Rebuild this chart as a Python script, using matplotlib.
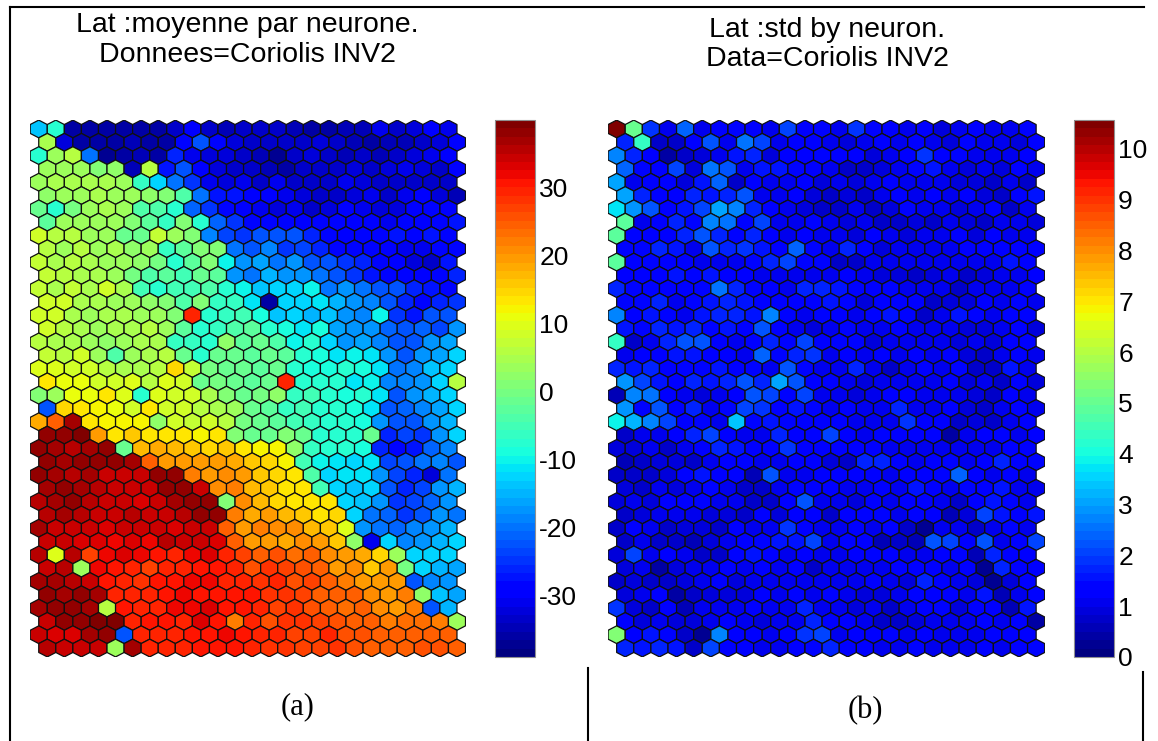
import numpy as np
import matplotlib
matplotlib.use('Agg')
import matplotlib.pyplot as plt
from matplotlib.collections import PolyCollection
from matplotlib.lines import Line2D

plt.rcParams['axes.unicode_minus'] = False
plt.rcParams['font.family'] = ['Liberation Sans', 'DejaVu Sans']

W, H = 1158, 741

mean_rows = [
[-14,-8,-36,-36,-36,-36,-36,-36,-33,-30,-33,-35,-33,-34,-33,-35,-36,-36,-35,-35,-31,-33,-32,-30,-31],
[5,-32,-36,-36,-36,-35,-36,-36,-28,-23,-29,-32,-34,-34,-33,-33,-32,-34,-35,-36,-35,-35,-33,-32,-30],
[-7,3,6,-20,-37,-36,-35,-36,-26,-31,-32,-32,-33,-35,-37,-34,-32,-33,-35,-34,-35,-33,-32,-31,-30],
[4,4,4,1,2,-35,6,-27,-23,-30,-32,-34,-34,-35,-36,-34,-33,-33,-32,-33,-32,-31,-32,-33,-30],
[3,5,5,5,5,4,-6,-13,-20,-25,-31,-32,-31,-33,-31,-34,-34,-33,-31,-32,-33,-33,-34,-34,-33],
[2,4,4,5,4,3,2,1,-4,-20,-27,-27,-30,-30,-31,-32,-33,-33,-32,-31,-33,-31,-30,-32,-35],
[-1,-7,0,4,5,3,-4,-4,-7,-21,-25,-29,-30,-31,-32,-31,-34,-32,-30,-31,-32,-32,-30,-28,-30],
[-3,4,4,3,3,1,-3,-6,1,-8,-21,-25,-28,-29,-28,-30,-29,-28,-30,-30,-31,-29,-30,-29,-27],
[8,6,6,4,3,-2,-1,7,4,1,-19,-24,-25,-23,-22,-23,-26,-29,-30,-29,-28,-27,-28,-27,-29],
[6,4,6,3,5,2,3,-6,-3,1,1,-20,-23,-19,-25,-24,-26,-28,-28,-29,-30,-31,-31,-29,-28],
[7,5,6,5,4,4,2,0,-8,-3,1,-10,-18,-16,-20,-18,-22,-23,-25,-26,-28,-30,-32,-33,-27],
[7,6,5,5,3,0,-4,-3,-5,-2,-3,-18,-20,-15,-18,-18,-20,-23,-25,-27,-28,-29,-30,-28,-26],
[7,5,7,5,8,5,-5,-7,-5,-5,-4,-8,-10,-14,-13,-12,-10,-20,-18,-20,-22,-22,-26,-27,-29],
[8,8,5,5,4,4,2,1,-4,1,-6,-6,-11,-36,-13,-12,-11,-15,-17,-19,-23,-26,-29,-26,-25],
[8,9,5,4,5,5,4,3,1,30,-7,-6,-5,-9,-14,-13,-15,-14,-17,-19,-10,-25,-27,-22,-23],
[8,6,5,4,5,5,6,3,-3,-8,-6,-4,-3,-7,-9,-11,-9,-16,-17,-17,-21,-23,-21,-24,-18],
[6,5,5,4,2,4,5,5,-6,-6,-7,2,-3,-2,-4,-10,-8,-12,-17,-16,-19,-22,-23,-18,-16],
[7,6,8,4,-4,4,5,6,-2,-7,-2,-1,-3,-1,-3,-8,-9,-11,-10,-11,-17,-22,-18,-16,-13],
[10,10,8,9,6,5,5,6,15,7,0,-1,-2,-3,-1,-8,-9,-9,-8,-9,-11,-20,-19,-14,-13],
[13,11,11,8,9,10,6,10,8,-2,0,-1,-3,-2,30,-7,-7,-8,-11,-10,-19,-19,-17,-13,6],
[1,3,11,11,13,10,-8,10,9,8,5,1,-2,0,2,-6,-5,-7,-9,-8,-11,-22,-18,-15,-12],
[-23,15,14,12,11,9,13,8,9,6,5,4,-2,-3,-6,-5,-7,-8,-9,-11,-22,-21,-19,-16,-12],
[18,24,37,14,12,12,12,2,9,7,8,6,0,-1,-3,-5,-6,-7,-8,-9,-18,-23,-22,-18,-15],
[38,38,39,19,14,16,13,13,13,12,13,1,-1,-2,1,-2,-7,-8,-7,-1,-26,-24,-25,-17,-12],
[38,37,36,37,38,-1,17,18,17,16,15,16,13,12,12,2,-6,-7,-8,-9,-26,-28,-27,-21,-19],
[38,37,38,38,38,37,25,19,20,19,19,18,16,15,12,-5,-10,-11,-12,-11,-24,-23,-20,-19,-23],
[38,37,36,37,35,35,34,38,38,22,20,21,20,16,15,14,-4,-12,-11,-11,-18,-24,-26,-32,-20],
[37,38,37,36,35,34,35,38,38,35,21,22,17,16,14,13,-5,-12,-14,-12,-23,-26,-24,-18,-15],
[36,37,38,36,35,35,33,35,37,38,38,1,21,17,15,14,13,14,-13,-14,-18,-25,-24,-21,-18],
[36,37,36,35,35,36,34,35,36,38,38,22,18,19,17,16,14,15,-12,-20,-21,-25,-22,-18,-20],
[37,34,34,34,33,34,35,34,33,34,35,24,20,22,21,21,17,16,10,-17,-20,-21,-19,-17,-15],
[35,34,33,33,32,33,32,36,35,34,33,24,20,19,18,21,19,16,2,-31,-12,-19,-18,-15,-12],
[36,10,36,27,32,33,32,31,30,32,33,29,27,24,26,23,24,21,20,18,15,3,-13,-13,-12],
[35,36,3,32,31,30,27,30,29,31,31,30,26,28,27,26,24,20,21,16,19,0,-13,-15,-16],
[37,37,36,34,31,30,28,31,31,32,32,30,30,28,29,26,27,25,22,20,19,20,-23,-19,-18],
[38,37,38,37,30,29,29,31,32,31,31,31,31,28,28,27,25,24,25,21,20,22,2,-14,-16],
[37,38,38,37,6,31,30,30,32,32,33,31,31,29,27,28,26,24,23,24,21,20,22,-23,-15],
[34,38,38,39,39,30,31,31,30,33,31,22,29,26,28,28,27,26,24,24,22,23,23,22,4],
[34,33,33,37,38,-22,30,29,30,31,31,32,31,29,30,27,27,29,26,26,24,24,25,24,24],
[36,35,34,34,3,37,30,29,30,31,31,31,30,28,28,27,27,28,26,25,25,25,26,26,25],
]

std_rows = [
[10.5,5.0,1.9,1.1,2.4,1.1,1.2,1.4,1.3,1.1,2.1,1.3,1.4,1.1,1.9,1.4,1.2,1.0,1.3,0.9,1.0,1.3,1.0,1.1,1.4],
[1.8,4.3,0.8,0.7,1.3,2.3,1.1,2.6,2.0,1.1,1.3,1.2,1.0,0.9,1.1,1.3,1.1,1.2,1.1,0.9,1.4,1.1,1.0,0.9,1.2],
[2.8,1.7,1.3,0.4,0.7,0.9,1.1,1.5,1.8,0.9,1.2,1.3,1.4,1.2,1.3,0.9,1.0,1.2,1.9,1.2,1.4,1.0,1.1,1.0,1.2],
[2.4,1.4,1.2,2.0,0.9,2.6,2.2,1.1,1.5,1.5,1.4,1.2,1.0,0.8,0.7,0.9,1.0,1.4,1.5,1.1,0.9,1.0,0.9,1.2,1.0],
[3.0,1.0,1.3,1.2,0.9,1.6,2.4,0.8,1.2,1.1,1.1,1.3,0.9,1.1,0.9,1.1,1.2,1.0,1.0,1.1,0.9,0.9,0.8,1.0,0.8],
[3.0,1.8,1.2,1.3,1.7,1.6,1.8,2.2,1.1,1.0,1.2,0.9,0.7,0.9,0.8,1.0,1.3,1.0,1.2,1.0,1.3,0.9,0.7,1.3,1.5],
[3.7,2.9,2.3,1.3,1.5,2.0,3.0,2.8,1.8,1.3,1.1,0.9,0.8,0.7,1.0,0.8,0.9,1.4,1.0,1.0,0.9,1.1,1.2,0.8,1.0],
[4.8,1.0,1.3,1.8,1.4,2.8,2.5,1.4,2.0,1.1,1.0,1.4,1.0,0.9,1.1,0.8,0.8,0.9,0.8,1.0,0.9,0.8,1.1,1.1,0.9],
[4.8,1.4,1.3,1.2,1.8,2.3,1.7,1.4,1.8,1.3,1.1,1.2,1.1,1.0,0.9,1.2,1.0,0.9,1.0,1.1,1.3,0.9,1.2,1.1,1.1],
[1.4,1.4,1.8,1.5,1.1,2.2,1.7,1.9,1.5,1.2,2.4,1.4,1.1,1.7,1.2,0.9,1.1,1.1,1.0,1.0,1.2,1.3,1.3,1.2,1.3],
[4.8,1.3,1.4,1.3,1.2,1.0,1.0,1.1,1.4,1.8,2.0,1.4,1.4,0.8,0.7,1.1,1.0,1.1,1.0,1.1,1.0,1.1,1.0,1.6,1.2],
[1.2,1.3,1.2,1.6,1.4,1.6,1.2,1.3,1.0,1.1,1.1,1.1,1.0,1.3,1.0,0.9,0.9,0.8,0.9,1.1,0.7,0.9,1.1,1.0,1.2],
[1.8,1.4,1.4,1.3,1.2,1.4,2.5,1.8,1.4,1.3,1.0,1.8,1.7,1.5,1.4,1.3,1.4,1.0,1.1,1.0,0.8,1.0,1.0,1.1,1.2],
[1.4,1.4,1.7,1.1,1.4,1.5,1.8,1.5,1.3,1.3,1.2,1.3,1.5,1.4,0.9,1.3,1.3,1.2,0.8,0.9,0.9,1.3,1.1,1.4,1.1],
[2.7,1.3,1.5,1.4,1.1,1.5,1.8,1.7,1.5,2.7,1.4,1.1,1.4,1.2,1.0,1.4,1.5,1.4,0.7,1.1,1.5,1.4,1.1,1.4,1.4],
[1.5,1.4,1.7,1.5,1.7,1.4,1.5,1.2,2.2,1.3,1.0,0.9,1.1,1.4,1.0,1.1,1.3,1.1,1.0,1.1,0.9,0.9,1.1,1.2,0.9],
[4.3,0.7,1.1,1.7,2.2,2.3,1.2,1.1,1.3,1.7,1.4,2.0,1.2,1.4,1.4,0.9,1.0,1.0,1.0,1.1,0.9,1.0,0.9,1.2,1.3],
[1.1,1.2,1.2,1.5,1.5,1.3,1.2,1.0,2.4,1.4,1.8,1.9,1.1,1.2,1.0,1.2,1.0,1.2,1.1,1.3,0.9,0.8,1.1,1.3,1.1],
[1.8,1.6,1.7,1.3,1.4,1.4,1.5,1.3,1.4,1.1,2.3,1.4,1.1,1.0,1.8,1.1,0.8,1.0,1.3,1.1,1.4,0.8,0.7,1.6,1.1],
[2.9,2.0,1.6,1.3,1.8,1.6,1.8,2.3,1.7,3.1,2.2,1.2,1.3,1.1,0.9,1.1,1.0,1.1,1.0,1.3,0.9,1.0,0.8,1.2,0.9],
[0.5,2.7,2.5,1.3,1.1,0.9,1.0,1.3,2.2,2.1,1.4,2.1,1.0,1.1,0.9,1.0,1.3,1.3,1.1,1.1,1.0,0.9,0.8,1.3,1.1],
[2.9,1.4,2.2,1.3,1.8,1.1,1.4,2.0,1.9,1.3,1.5,1.4,1.0,1.3,1.1,1.0,1.8,1.0,1.1,1.2,0.9,0.8,1.0,1.3,1.1],
[3.8,3.3,2.8,2.1,1.3,1.4,1.1,3.4,1.4,1.6,1.4,1.3,1.2,1.3,1.0,1.1,1.1,1.9,1.3,1.3,0.8,0.9,0.8,1.1,1.2],
[0.8,1.0,1.1,1.2,1.8,2.1,1.2,1.0,1.0,1.7,1.3,1.4,2.0,1.3,1.1,1.4,1.2,1.3,1.4,0.4,1.1,1.2,1.4,1.1,1.2],
[0.9,0.9,1.0,0.8,1.0,1.2,1.7,1.6,1.2,1.2,1.9,1.2,1.3,1.2,1.3,1.2,1.0,1.0,1.1,1.1,1.0,1.1,1.1,1.3,1.3],
[0.6,0.8,0.9,0.9,0.8,1.1,1.3,1.4,1.0,1.1,1.2,1.2,0.9,0.8,1.7,1.8,1.3,1.1,1.2,1.4,1.1,1.2,1.8,1.3,1.4],
[0.8,0.7,0.7,0.9,1.4,1.5,1.3,1.4,0.5,2.3,1.1,1.1,1.3,1.2,1.3,1.2,1.1,1.2,1.2,1.4,2.4,1.3,1.0,1.3,1.0],
[0.9,0.7,1.0,0.9,1.1,1.4,1.1,0.8,0.8,1.0,1.4,1.2,1.3,1.0,1.1,1.2,1.1,1.6,1.2,1.1,1.4,1.2,1.6,1.1,1.0],
[0.9,1.0,0.9,1.2,1.2,1.4,1.0,1.0,0.8,0.8,1.2,2.3,1.1,1.0,0.9,1.2,1.0,1.2,1.2,1.0,0.7,1.3,1.6,1.4,1.1],
[0.8,0.9,1.1,1.0,1.1,0.9,0.9,0.7,1.2,0.9,1.3,1.2,0.8,1.2,1.4,1.4,1.1,1.4,1.3,0.5,0.9,2.0,1.5,1.2,1.6],
[0.8,1.2,1.0,0.8,0.9,0.9,0.8,1.2,1.0,1.1,1.9,1.2,1.1,1.0,1.3,1.1,1.2,0.7,0.3,1.0,1.0,0.8,1.0,1.4,1.1],
[0.8,1.0,0.7,0.8,0.6,0.9,1.0,1.2,1.4,1.5,1.6,2.0,1.1,1.4,1.3,0.6,0.7,0.6,2.2,2.0,1.3,2.3,1.1,1.3,2.1],
[0.9,2.1,1.1,1.3,1.0,0.8,0.8,1.4,1.5,1.2,1.0,1.3,1.0,1.0,1.2,1.4,1.2,1.0,1.1,1.3,1.4,0.5,1.8,1.3,1.3],
[0.9,1.0,0.4,0.9,1.0,1.1,1.3,1.0,1.2,1.1,1.3,0.8,1.0,1.1,1.0,1.0,1.3,1.3,1.2,1.0,1.3,0.3,1.7,1.3,1.2],
[0.8,0.9,0.8,0.7,0.9,1.0,1.3,0.9,1.0,1.0,1.1,1.0,1.0,1.1,1.0,1.2,1.0,0.9,1.8,1.3,1.0,0.9,0.3,0.9,1.2],
[0.9,1.0,1.3,0.4,0.8,0.9,0.9,0.9,1.2,1.0,1.4,1.0,1.4,1.0,0.9,0.9,1.1,1.4,1.3,1.3,1.1,1.6,0.5,1.1,1.4],
[1.9,0.9,0.8,1.2,0.5,1.0,1.0,1.1,1.2,1.0,1.1,1.8,1.1,1.1,0.9,1.0,0.8,1.1,1.3,1.4,0.9,1.3,1.3,0.5,1.6],
[1.3,0.9,1.0,0.9,0.9,1.1,1.3,1.0,0.9,1.1,1.1,1.8,1.3,1.2,1.1,0.8,0.8,0.9,1.1,1.0,1.1,1.4,1.1,1.2,0.4],
[5.4,1.2,1.5,1.4,0.8,0.3,2.8,1.2,1.3,1.1,1.2,1.9,2.1,1.0,1.3,1.2,1.4,1.1,1.3,1.1,1.0,1.1,1.4,1.2,1.2],
[1.8,1.6,1.7,1.5,0.8,2.0,1.2,1.3,1.1,1.1,1.2,1.4,1.7,1.2,1.2,1.1,1.1,1.4,1.1,1.1,1.0,1.2,1.1,1.2,1.4],
]

mean_range = (-39.1, 40.0)
std_range = (0, 10.57)
mean_ticks = [-30, -20, -10, 0, 10, 20, 30]
std_ticks = [0, 1, 2, 3, 4, 5, 6, 7, 8, 9, 10]

jet = plt.get_cmap('jet', 64)
# pointy top hexagon, in grid units (1 col wide, 1 row between centres)
hex_x = np.array([0, .5, .5, 0, -.5, -.5])
hex_y = np.array([-2/3, -1/3, 1/3, 2/3, 1/3, -1/3])


def px_axes(x0, y0, x1, y1):
    return fig.add_axes([x0/W, 1-y1/H, (x1-x0)/W, (y1-y0)/H])


def som_map(rows, vrange, ticks, map_box, bar_box):
    vals = np.array(rows)
    ax = px_axes(*map_box)
    polys = []
    for r in range(vals.shape[0]):
        for c in range(vals.shape[1]):
            polys.append(np.c_[hex_x + c + .5*(r % 2), hex_y + r])
    coll = PolyCollection(polys, array=vals.ravel(), cmap=jet, clim=vrange,
                          edgecolors='#101010', linewidths=.9)
    ax.add_collection(coll)
    ax.set_xlim(-.5, vals.shape[1])
    ax.set_ylim(vals.shape[0]-1+2/3, -2/3)
    ax.axis('off')
    cax = px_axes(*bar_box)
    cb = fig.colorbar(coll, cax=cax, ticks=ticks)
    cb.outline.set_edgecolor('#909090')
    cb.outline.set_linewidth(.8)
    cax.tick_params(length=0, pad=3, labelsize=19)


fig = plt.figure(figsize=(W/100, H/100), dpi=100)

som_map(mean_rows, mean_range, mean_ticks, (30.2, 120.1, 465.5, 656.9), (494.5, 120, 535, 657))
som_map(std_rows, std_range, std_ticks, (608.1, 120.1, 1044.7, 656.9), (1073.5, 120, 1114, 657))

fig.text(247/W, 1-32/H, 'Lat :moyenne par neurone.', ha='center', va='baseline', fontsize=20.5)
fig.text(247/W, 1-62/H, 'Donnees=Coriolis INV2', ha='center', va='baseline', fontsize=20.5)
fig.text(827/W, 1-37/H, 'Lat :std by neuron.', ha='center', va='baseline', fontsize=20.5)
fig.text(827/W, 1-66/H, 'Data=Coriolis INV2', ha='center', va='baseline', fontsize=20.5)
fig.text(298/W, 1-707/H, '(a)', ha='center', va='center', fontsize=22, family='Liberation Serif')
fig.text(865/W, 1-711/H, '(b)', ha='center', va='center', fontsize=22, family='Liberation Serif')

# table rules around the panels
for xs, ys in [((10, 10), (7, 741)), ((10, 1144), (7, 7)), ((588, 588), (668, 741)), ((1143, 1143), (672, 741))]:
    fig.add_artist(Line2D([x/W for x in xs], [1-y/H for y in ys], color='black', lw=1.5))

fig.savefig('out.png', dpi=100)
